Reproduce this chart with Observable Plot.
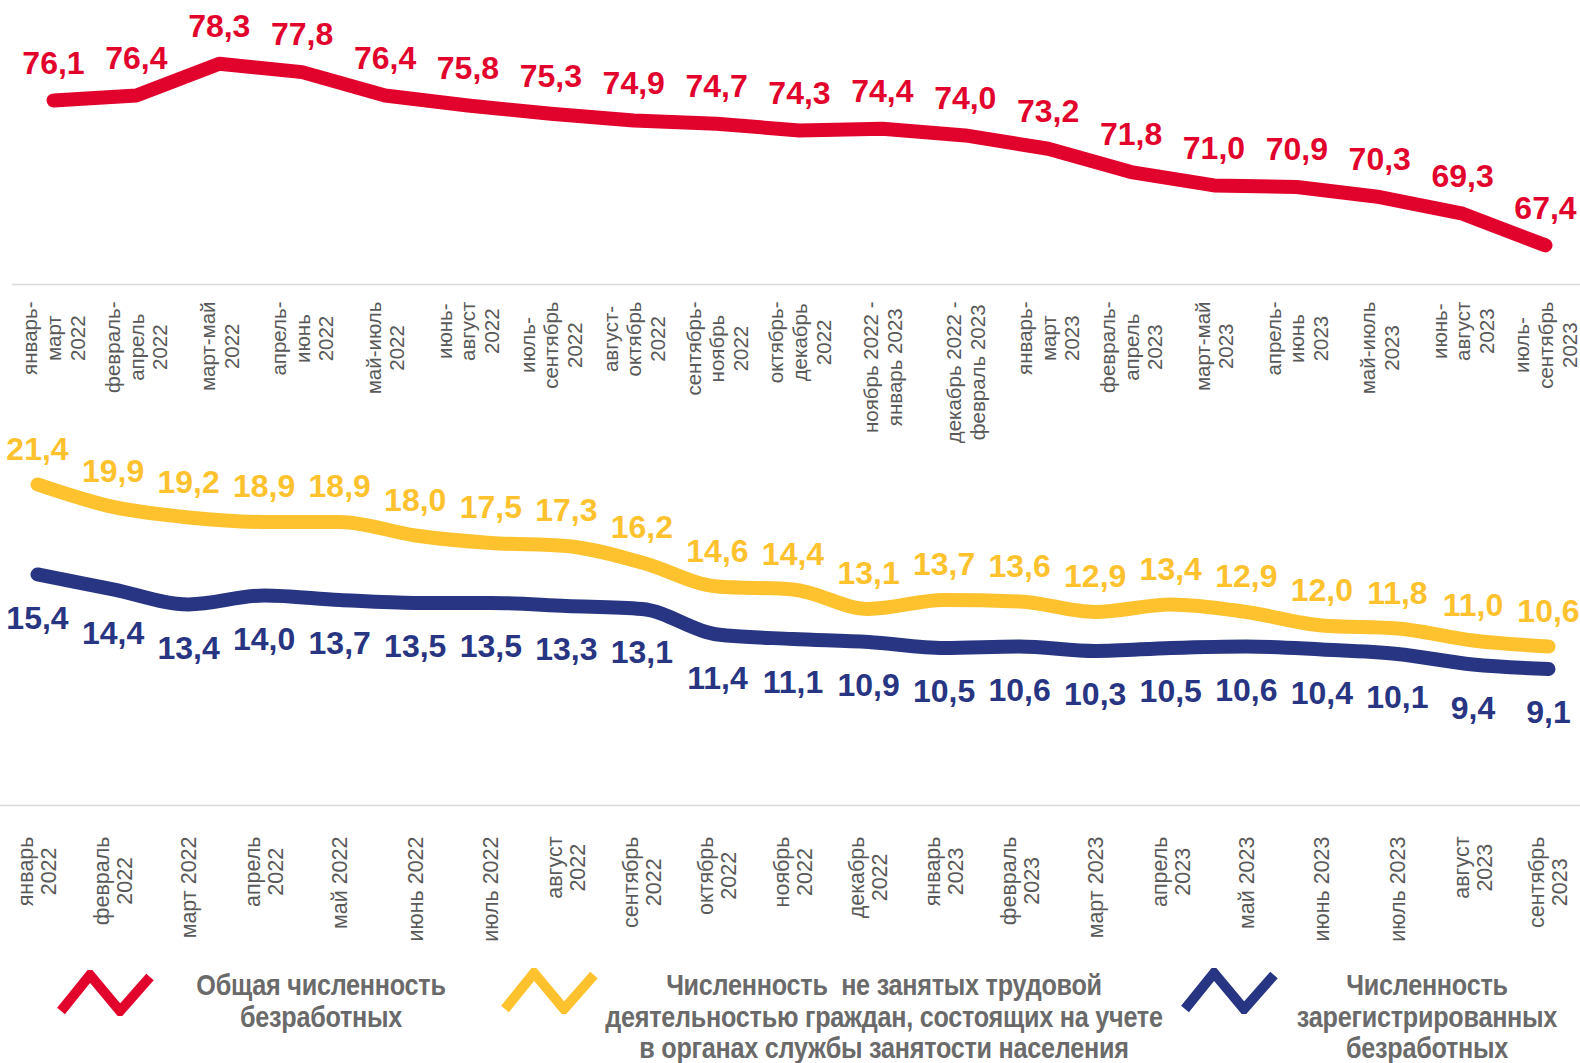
<!DOCTYPE html>
<html>
<head>
<meta charset="utf-8">
<script src="https://cdn.jsdelivr.net/npm/d3@7"></script>
<script src="https://cdn.jsdelivr.net/npm/@observablehq/plot@0.6"></script>
<style>
  body { margin: 0; background: #fff; }
  #wrap { position: relative; width: 1580px; height: 1063px; overflow: hidden; background: #fff;
          font-family: 'Liberation Sans', Arial, sans-serif; }
  #top, #bottom { position: absolute; left: 0; }
  #top { top: 0; }
  #bottom { top: 425px; }
  .icon { position: absolute; }
  .legtext { position: absolute; width: 700px; text-align: center; color: #6a6a6a; font-weight: bold;
             font-size: 30px; line-height: 31.5px; transform: scaleX(0.84); transform-origin: center top;
             white-space: pre; font-family: 'Liberation Sans', Arial, sans-serif; letter-spacing: -0.3px; }
</style>
</head>
<body>
<div id="wrap">
  <div id="top"></div>
  <div id="bottom"></div>
</div>
<script>
// ---------- data ----------
const periods = [
  "январь-\nмарт\n2022", "февраль-\nапрель\n2022", "март-май\n2022", "апрель-\nиюнь\n2022",
  "май-июль\n2022", "июнь-\nавгуст\n2022", "июль-\nсентябрь\n2022", "август-\nоктябрь\n2022",
  "сентябрь-\nноябрь\n2022", "октябрь-\nдекабрь\n2022", "ноябрь 2022 -\nянварь 2023",
  "декабрь 2022 -\nфевраль 2023", "январь-\nмарт\n2023", "февраль-\nапрель\n2023", "март-май\n2023",
  "апрель-\nиюнь\n2023", "май-июль\n2023", "июнь-\nавгуст\n2023", "июль-\nсентябрь\n2023"
];
const totalUnemployed = [76.1, 76.4, 78.3, 77.8, 76.4, 75.8, 75.3, 74.9, 74.7, 74.3, 74.4, 74.0, 73.2, 71.8, 71.0, 70.9, 70.3, 69.3, 67.4];

const months = [
  "январь\n2022", "февраль\n2022", "март 2022", "апрель\n2022", "май 2022", "июнь 2022", "июль 2022",
  "август\n2022", "сентябрь\n2022", "октябрь\n2022", "ноябрь\n2022", "декабрь\n2022", "январь\n2023",
  "февраль\n2023", "март 2023", "апрель\n2023", "май 2023", "июнь 2023", "июль 2023", "август\n2023", "сентябрь\n2023"
];
const notEmployedRegistered = [21.4, 19.9, 19.2, 18.9, 18.9, 18.0, 17.5, 17.3, 16.2, 14.6, 14.4, 13.1, 13.7, 13.6, 12.9, 13.4, 12.9, 12.0, 11.8, 11.0, 10.6];
const registeredUnemployed = [15.4, 14.4, 13.4, 14.0, 13.7, 13.5, 13.5, 13.3, 13.1, 11.4, 11.1, 10.9, 10.5, 10.6, 10.3, 10.5, 10.6, 10.4, 10.1, 9.4, 9.1];

const legendLabels = [
  "Общая численность\nбезработных",
  "Численность  не занятых трудовой\nдеятельностью граждан, состоящих на учете\nв органах службы занятости населения",
  "Численность\nзарегистрированных\nбезработных"
];

// ---------- styles ----------
const RED = "#e2032d", YELLOW = "#fec22f", BLUE = "#283582";
const FONT = "'Liberation Sans', Arial, sans-serif";
const fmt = v => d3.format(".1f")(v).replace(".", ",");

const ctx = document.createElement("canvas").getContext("2d");
function measure(s, size) { ctx.font = size + "px 'Liberation Sans'"; return ctx.measureText(s).width; }

function tickLabels(cats, gap, size, lh) {
  return cats.map(c => {
    const maxLen = d3.max(c.split("\n"), l => measure(l, size));
    return Plot.text([c], {
      x: d => d, frameAnchor: "bottom", rotate: -90, textAnchor: "middle", lineAnchor: "middle",
      dy: gap + maxLen / 2, fontSize: size, lineHeight: lh, fill: "#595959", fontFamily: FONT
    });
  });
}

// ---------- top chart ----------
const topData = periods.map((p, i) => ({p, v: totalUnemployed[i]}));
const yTop = [65.05, 82.1];
const topPlot = Plot.plot({
  width: 1580, height: 440,
  marginTop: 0, marginBottom: 156, marginLeft: 12, marginRight: 0,
  style: {background: "transparent", overflow: "visible", fontFamily: FONT},
  x: {type: "point", domain: periods, range: [53, 1545], padding: 0, round: false, axis: null},
  y: {domain: yTop, axis: null},
  marks: [
    Plot.ruleY([yTop[0]], {stroke: "#d9d9d9", strokeWidth: 1.5}),
    Plot.line(topData, {x: "p", y: "v", stroke: RED, strokeWidth: 14, strokeLinecap: "round", strokeLinejoin: "round"}),
    Plot.text(topData, {x: "p", y: "v", text: d => fmt(d.v), dy: -37, fill: RED, fontSize: 32, fontWeight: "bold", lineAnchor: "middle", fontFamily: FONT}),
    ...tickLabels(periods, 17, 20.5, 1.15)
  ]
});
document.getElementById("top").appendChild(topPlot);

// ---------- bottom chart ----------
const yData = months.map((m, i) => ({m, v: notEmployedRegistered[i]}));
const bData = months.map((m, i) => ({m, v: registeredUnemployed[i]}));
const yBot = [0, 25.33];
const botPlot = Plot.plot({
  width: 1580, height: 530,
  marginTop: 0, marginBottom: 150, marginLeft: 0, marginRight: 0,
  style: {background: "transparent", overflow: "visible", fontFamily: FONT},
  x: {type: "point", domain: months, range: [37, 1548], padding: 0, round: false, axis: null},
  y: {domain: yBot, axis: null},
  marks: [
    Plot.ruleY([yBot[0]], {stroke: "#d9d9d9", strokeWidth: 1.5}),
    Plot.line(yData, {x: "m", y: "v", stroke: YELLOW, strokeWidth: 14, curve: "monotone-x", strokeLinecap: "round", strokeLinejoin: "round"}),
    Plot.line(bData, {x: "m", y: "v", stroke: BLUE, strokeWidth: 14, curve: "monotone-x", strokeLinecap: "round", strokeLinejoin: "round"}),
    Plot.text(yData, {x: "m", y: "v", text: d => fmt(d.v), dy: -35, fill: YELLOW, fontSize: 32, fontWeight: "bold", lineAnchor: "middle", fontFamily: FONT}),
    Plot.text(bData, {x: "m", y: "v", text: d => fmt(d.v), dy: 44, fill: BLUE, fontSize: 32, fontWeight: "bold", lineAnchor: "middle", fontFamily: FONT}),
    ...tickLabels(months, 31, 21.5, 1.07)
  ]
});
document.getElementById("bottom").appendChild(botPlot);

// ---------- legend ----------
const wrap = document.getElementById("wrap");
const legendItems = [
  {color: RED, iconLeft: 56, iconTop: 970, center: 321},
  {color: YELLOW, iconLeft: 500, iconTop: 968, center: 884},
  {color: BLUE, iconLeft: 1180, iconTop: 968, center: 1427}
];
legendItems.forEach((it, i) => {
  const svg = d3.create("svg").attr("class", "icon").attr("width", 100).attr("height", 46)
    .style("left", it.iconLeft + "px").style("top", it.iconTop + "px");
  svg.append("polyline").attr("points", "5,41 34,5 64,41 94,7")
    .attr("fill", "none").attr("stroke", it.color).attr("stroke-width", 10).attr("stroke-linejoin", "miter");
  wrap.appendChild(svg.node());
  const t = document.createElement("div");
  t.className = "legtext";
  t.textContent = legendLabels[i];
  t.style.left = (it.center - 350) + "px";
  t.style.top = "969px";
  wrap.appendChild(t);
});
</script>
</body>
</html>
